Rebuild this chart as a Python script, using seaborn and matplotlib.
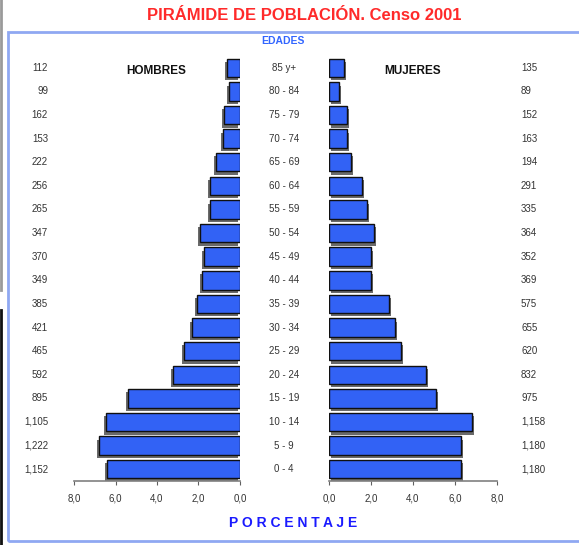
import matplotlib
matplotlib.use("Agg")
import matplotlib.pyplot as plt
import matplotlib.patheffects as pe
import matplotlib.transforms as mtransforms
from matplotlib.patches import Rectangle
import seaborn as sns
import pandas as pd

ages = ["85 y+", "80 - 84", "75 - 79", "70 - 74", "65 - 69", "60 - 64", "55 - 59",
        "50 - 54", "45 - 49", "40 - 44", "35 - 39", "30 - 34", "25 - 29", "20 - 24",
        "15 - 19", "10 - 14", "5 - 9", "0 - 4"]
men_pct = [0.63, 0.53, 0.77, 0.82, 1.16, 1.45, 1.45, 1.93, 1.73, 1.83, 2.07, 2.31,
           2.70, 3.23, 5.40, 6.46, 6.80, 6.41]
women_pct = [0.71, 0.48, 0.87, 0.87, 1.03, 1.59, 1.79, 2.14, 1.98, 1.98, 2.86, 3.14,
             3.41, 4.60, 5.11, 6.79, 6.27, 6.27]
men_counts = ["112", "99", "162", "153", "222", "256", "265", "347", "370", "349",
              "385", "421", "465", "592", "895", "1,105", "1,222", "1,152"]
women_counts = ["135", "89", "152", "163", "194", "291", "335", "364", "352", "369",
                "575", "655", "620", "832", "975", "1,158", "1,180", "1,180"]
ticks = [0, 2, 4, 6, 8]
tick_labels = ["0,0", "2,0", "4,0", "6,0", "8,0"]

df = pd.DataFrame({"edad": ages, "hombres": men_pct, "mujeres": women_pct})

plt.rcParams["font.family"] = ["Liberation Sans", "DejaVu Sans"]

W, H = 579, 545
fig = plt.figure(figsize=(W / 100, H / 100), dpi=100)
fig.patch.set_facecolor("white")

def fx(px):
    return px / W

def fy(py):
    return 1 - py / H

bar_color = "#3262F5"
ax_bottom, ax_top = fy(481), fy(56)
axL = fig.add_axes([fx(74), ax_bottom, fx(240) - fx(74), ax_top - ax_bottom])
axR = fig.add_axes([fx(329), ax_bottom, fx(497) - fx(329), ax_top - ax_bottom])

sns.barplot(data=df, x="hombres", y="edad", order=ages, orient="h", ax=axL,
            color=bar_color, saturation=1, width=0.78, edgecolor="#101010", linewidth=1.0)
sns.barplot(data=df, x="mujeres", y="edad", order=ages, orient="h", ax=axR,
            color=bar_color, saturation=1, width=0.78, edgecolor="#101010", linewidth=1.0)

for ax, off in ((axL, (-1.5, -2.4)), (axR, (1.5, -2.4))):
    for p in ax.patches:
        p.set_path_effects([pe.SimplePatchShadow(offset=off, shadow_rgbFace="#6a6a6a", alpha=1.0),
                            pe.Normal()])

axL.set_xlim(8, 0)
axR.set_xlim(0, 8)
for ax in (axL, axR):
    ax.set_ylim(len(ages) - 0.5, -0.5)
    ax.set_xticks(ticks)
    ax.set_xticklabels(tick_labels, fontsize=7, color="#333333")
    ax.set_yticks([])
    ax.set_xlabel("")
    ax.set_ylabel("")
    ax.set_facecolor("none")
    for s in ("top", "left", "right"):
        ax.spines[s].set_visible(False)
    ax.spines["bottom"].set_color("#808080")
    ax.spines["bottom"].set_linewidth(1.2)
    ax.tick_params(axis="x", length=3, width=0.8, color="#606060", pad=6)

# age labels and counts
tr = mtransforms.blended_transform_factory(fig.transFigure, axL.transData)
for i, a in enumerate(ages):
    axL.text(fx(284), i, a, transform=tr, ha="center", va="center", fontsize=7,
             color="#333333", clip_on=False)
    axL.text(fx(48), i, men_counts[i], transform=tr, ha="right", va="center",
             fontsize=7, color="#333333", clip_on=False)
    axL.text(fx(521), i, women_counts[i], transform=tr, ha="left", va="center",
             fontsize=7, color="#333333", clip_on=False)

# titles and labels
fig.text(fx(304), fy(15), "PIRÁMIDE DE POBLACIÓN. Censo 2001", ha="center", va="center",
         fontsize=12, fontweight="bold", color="#FF2A2A")
fig.text(fx(283), fy(41), "EDADES", ha="center", va="center", fontsize=7.5,
         fontweight="bold", color="#3366FF")
fig.text(fx(156), fy(71), "HOMBRES", ha="center", va="center", fontsize=8.5,
         fontweight="bold", color="#111111")
fig.text(fx(413), fy(71), "MUJERES", ha="center", va="center", fontsize=8.5,
         fontweight="bold", color="#111111")
fig.text(fx(293), fy(523), "P O R C E N T A J E", ha="center", va="center", fontsize=10,
         fontweight="bold", color="#1A1AFF")

# frame
fig.patches.append(Rectangle((fx(8), fy(541)), 1.2, fy(32) - fy(541), transform=fig.transFigure,
                             fill=False, edgecolor="#8FA8F2", linewidth=2.0))
# left screenshot edge
fig.lines.append(plt.Line2D([fx(1), fx(1)], [fy(0), fy(290)], transform=fig.transFigure,
                            color="#9a9a9a", linewidth=2))
fig.lines.append(plt.Line2D([fx(1), fx(1)], [fy(310), fy(545)], transform=fig.transFigure,
                            color="#111111", linewidth=2))

fig.savefig("out.png", dpi=100, facecolor="white")
